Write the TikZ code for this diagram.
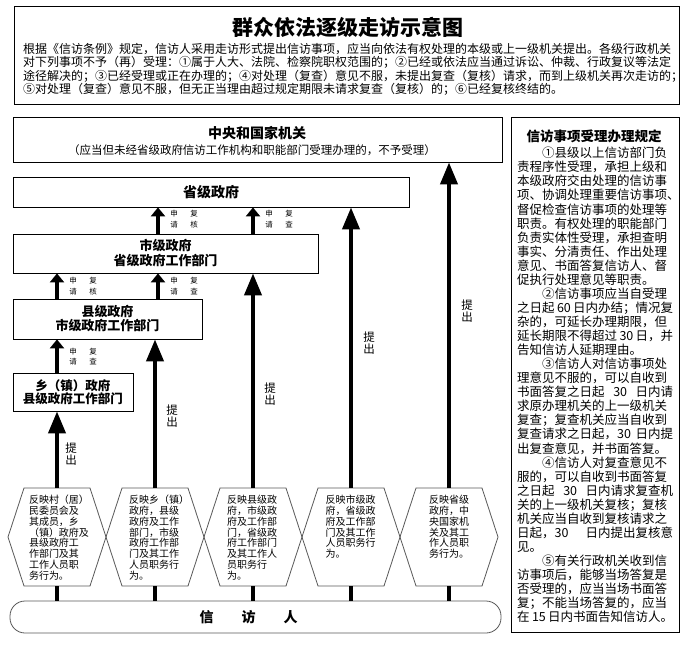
\documentclass[tikz,border=0pt]{standalone}
\usepackage{fontspec}
\setmainfont{Noto Sans CJK SC}
\usetikzlibrary{arrows.meta}
\XeTeXlinebreaklocale "zh"
\XeTeXlinebreakskip=0pt plus 4pt minus 1.5pt
\newlength{\linew}
\newcommand{\jl}[1]{\makebox[\linew][s]{#1}}
\tikzset{
  every node/.style={inner sep=0pt,text=black},
  boxline/.style={draw=black,line width=.8pt},
  tier/.style={boxline,align=center,font=\bfseries\fontsize{13}{15}\selectfont},
  hexline/.style={draw=black!65,line width=.8pt},
  hextext/.style={anchor=north,align=left,font=\fontsize{10}{10.8}\selectfont},
  tag/.style={align=center,font=\fontsize{7.5}{10.5}\selectfont},
  tichu/.style={align=center,font=\fontsize{11.5}{12.5}\selectfont},
  lift/.style={-{Triangle[length=9pt,width=14pt]},line width=4pt},
  submit/.style={-{Triangle[length=22pt,width=17pt]},line width=4pt},
  feed/.style={line width=4pt},
}
\newcommand{\petcell}[4]{% name, centre x, line width, lines
  \draw[hexline] (#2-49,537) -- (#2-33,488) -- (#2+33,488) -- (#2+49,537) -- (#2+33,586) -- (#2-33,586) -- cycle;
  \coordinate (#1top) at (#2,488);
  \coordinate (#1bot) at (#2,586);
  \setlength{\linew}{#3}
  \node[hextext] (#1) at (#2+1,495) {#4};
}
\newcommand{\review}[4]{% name, arrow x, centre y, last character
  \node[tag] (#1a) at (#2+16,#3) {申\\请};
  \node[tag] (#1b) at (#2+36,#3) {复\\#4};
}

\begin{document}
\begin{tikzpicture}[x=1pt,y=-1pt]
\path[use as bounding box] (0,0) rectangle (686,651);
\fill[white] (0,0) rectangle (686,651);
% heading: title and the cases that are not accepted
\draw[boxline] (14,6) rectangle (679,104);
\node[font=\bfseries\fontsize{21}{24}\selectfont] (title) at (348,27) {群众依法逐级走访示意图};
\setlength{\linew}{650pt}
\node[anchor=north west,align=left,font=\fontsize{12}{13.5}\selectfont] (intro) at (23,43) {%
\jl{根据《信访条例》规定，信访人采用走访形式提出信访事项，应当向依法有权处理的本级或上一级机关提出。各级行政机关}\\
\jl{对下列事项不予（再）受理：①属于人大、法院、检察院职权范围的；②已经或依法应当通过诉讼、仲裁、行政复议等法定}\\
\jl{途径解决的；③已经受理或正在办理的；④对处理（复查）意见不服，未提出复查（复核）请求，而到上级机关再次走访的；}\\
⑤对处理（复查）意见不服，但无正当理由超过规定期限未请求复查（复核）的；⑥已经复核终结的。};
% organs, from the centre down to the township
\node[boxline,minimum width=489pt,minimum height=45pt] (central) at (257.5,139.5) {};
\node[font=\bfseries\fontsize{14}{16}\selectfont] (centralname) at (257,133) {中央和国家机关};
\node[font=\fontsize{11.5}{13}\selectfont] (centralnote) at (252,150) {（应当但未经省级政府信访工作机构和职能部门受理办理的，不予受理）};
\node[tier,font=\bfseries\fontsize{14}{16}\selectfont,minimum width=396pt,minimum height=30pt] (prov) at (211,192) {省级政府};
\node[tier,minimum width=305pt,minimum height=39pt] (city) at (165.5,253.5) {市级政府\\省级政府工作部门};
\node[tier,font=\bfseries\fontsize{13}{14}\selectfont,minimum width=189pt,minimum height=40pt] (county) at (107.5,319) {县级政府\\市级政府工作部门};
\node[tier,font=\bfseries\fontsize{12.5}{13}\selectfont,minimum width=120pt,minimum height=38pt] (town) at (73,392) {乡（镇）政府\\县级政府工作部门};
% review requests between neighbouring levels
\coordinate (cola) at (57,0);
\coordinate (colb) at (158,0);
\coordinate (colc) at (253,0);
\draw[lift] (city.north -| colb) -- (prov.south -| colb);
\draw[lift] (city.north -| colc) -- (prov.south -| colc);
\review{rv1}{158}{219}{核}
\review{rv2}{253}{219}{查}
\draw[lift] (county.north -| cola) -- (city.south -| cola);
\draw[lift] (county.north -| colb) -- (city.south -| colb);
\review{rv3}{57}{286}{核}
\review{rv4}{158}{286}{查}
\draw[lift] (town.north -| cola) -- (county.south -| cola);
\review{rv5}{57}{356.5}{查}
% what the petitioner complains about
\petcell{h1}{57}{58pt}{\jl{反映村（居）}\\\jl{民委员会及}\\\jl{其成员，乡}\\\jl{（镇）政府及}\\\jl{县级政府工}\\\jl{作部门及其}\\\jl{工作人员职}\\务行为。}
\petcell{h2}{155}{54pt}{\jl{反映乡（镇）}\\\jl{政府，县级}\\\jl{政府及工作}\\\jl{部门，市级}\\\jl{政府工作部}\\\jl{门及其工作}\\\jl{人员职务行}\\为。}
\petcell{h3}{253}{54pt}{\jl{反映县级政}\\\jl{府，市级政}\\\jl{府及工作部}\\\jl{门，省级政}\\\jl{府工作部门}\\\jl{及其工作人}\\\jl{员职务行}\\为。}
\petcell{h4}{351}{53pt}{\jl{反映市级政}\\\jl{府，省级政}\\\jl{府及工作部}\\\jl{门及其工作}\\\jl{人员职务行}\\为。}
\petcell{h5}{449}{42pt}{\jl{反映省级}\\\jl{政府，中}\\\jl{央国家机}\\\jl{关及其工}\\\jl{作人员职}\\\jl{务行为。}}
\draw[submit] (h1top) -- (h1top |- town.south);
\draw[submit] (h2top) -- (h2top |- county.south);
\draw[submit] (h3top) -- (h3top |- city.south);
\draw[submit] (h4top) -- (h4top |- prov.south);
\draw[submit] (h5top) -- (h5top |- central.south);
\node[tichu] (up1) at (71,454) {提\\出};
\node[tichu] (up2) at (172,416) {提\\出};
\node[tichu] (up3) at (270,394) {提\\出};
\node[tichu] (up4) at (369,343) {提\\出};
\node[tichu] (up5) at (467,311) {提\\出};
% the petitioner
\node[hexline,rounded corners=15pt,minimum width=491pt,minimum height=32pt] (petitioner) at (255.5,617) {};
\node[font=\bfseries\fontsize{14}{16}\selectfont] (petname) at (248.5,617) {信\hspace{28pt}访\hspace{28pt}人};
\draw[feed] (h1bot) -- (h1bot |- petitioner.north);
\draw[feed] (h2bot) -- (h2bot |- petitioner.north);
\draw[feed] (h3bot) -- (h3bot |- petitioner.north);
\draw[feed] (h4bot) -- (h4bot |- petitioner.north);
\draw[feed] (h5bot) -- (h5bot |- petitioner.north);
% rules for handling petitions
\draw[boxline] (511,117) rectangle (679,632);
\node[font=\bfseries\fontsize{13.5}{16}\selectfont] (rulename) at (594,136) {信访事项受理办理规定};
\setlength{\linew}{156pt}
\node[anchor=north west,align=left,font=\fontsize{12.5}{14.06}\selectfont] (rules) at (517,147) {%
\jl{\hspace*{2em}①县级以上信访部门负}\\
\jl{责程序性受理，承担上级和}\\
\jl{本级政府交由处理的信访事}\\
\jl{项、协调处理重要信访事项、}\\
\jl{督促检查信访事项的处理等}\\
\jl{职责。有权处理的职能部门}\\
\jl{负责实体性受理，承担查明}\\
\jl{事实、分清责任、作出处理}\\
\jl{意见、书面答复信访人、督}\\
促执行处理意见等职责。\\
\jl{\hspace*{2em}②信访事项应当自受理}\\
\jl{之日起 60 日内办结；情况复}\\
\jl{杂的，可延长办理期限，但}\\
\jl{延长期限不得超过 30 日，并}\\
告知信访人延期理由。\\
\jl{\hspace*{2em}③信访人对信访事项处}\\
\jl{理意见不服的，可以自收到}\\
\jl{书面答复之日起 30 日内请}\\
\jl{求原办理机关的上一级机关}\\
\jl{复查；复查机关应当自收到}\\
\jl{复查请求之日起，30 日内提}\\
\jl{出复查意见，并书面答复。}\\
\jl{\hspace*{2em}④信访人对复查意见不}\\
\jl{服的，可以自收到书面答复}\\
\jl{之日起 30 日内请求复查机}\\
\jl{关的上一级机关复核；复核}\\
\jl{机关应当自收到复核请求之}\\
\jl{日起，30 日内提出复核意}\\
见。\\
\jl{\hspace*{2em}⑤有关行政机关收到信}\\
\jl{访事项后，能够当场答复是}\\
\jl{否受理的，应当当场书面答}\\
\jl{复；不能当场答复的，应当}\\
\jl{在 15 日内书面告知信访人。}};
\end{tikzpicture}
\end{document}
